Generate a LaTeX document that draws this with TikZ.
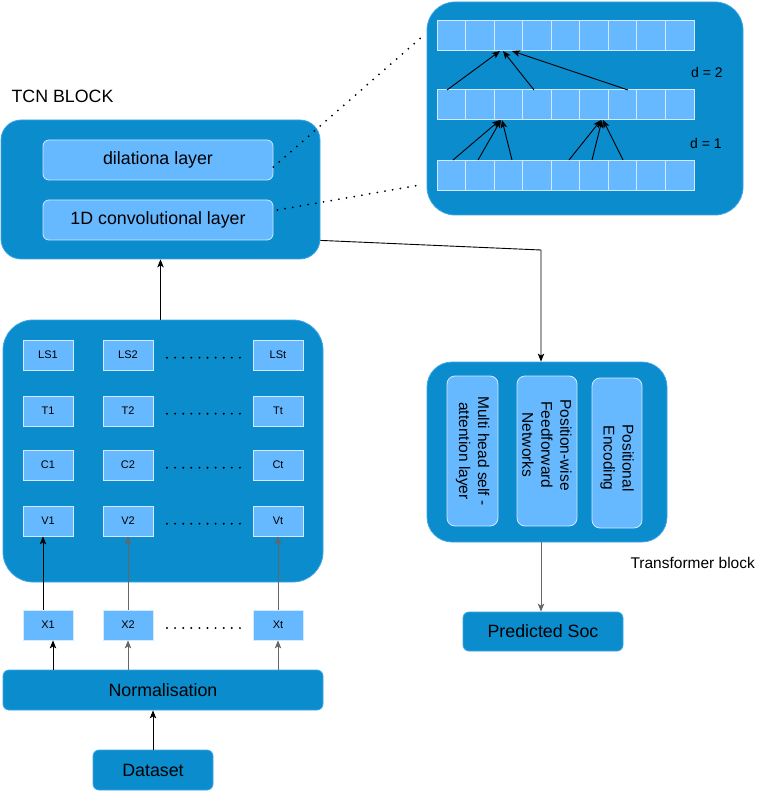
\documentclass[tikz,border=0pt]{standalone}
\usepackage{fontspec}
\setmainfont{Liberation Sans}
\usetikzlibrary{arrows.meta,calc}
\definecolor{outerblue}{HTML}{0A8CCD}
\definecolor{outeredge}{HTML}{3FA6E6}
\definecolor{innerblue}{HTML}{66B8FF}
\definecolor{inneredge}{HTML}{D4EAFF}
\definecolor{arrgray}{HTML}{666666}
\begin{document}
\begin{tikzpicture}[x=1pt,y=-1pt,
  outer/.style={draw=outeredge, fill=outerblue, line width=0.8pt, inner sep=0pt},
  inner/.style={draw=inneredge, fill=innerblue, line width=0.8pt, inner sep=0pt},
  cellbox/.style={draw=inneredge, fill=innerblue, line width=1pt, inner sep=0pt, minimum width=28.56pt, minimum height=30pt},
  gbox/.style={inner, minimum width=50pt, minimum height=30pt, font=\fontsize{11}{13}\selectfont},
  bigfont/.style={font=\fontsize{17.8}{21}\selectfont},
  midfont/.style={font=\fontsize{15.5}{19}\selectfont},
  arr/.style={line width=0.9pt, -{Stealth[length=8pt,width=6.5pt,inset=2pt]}},
  garr/.style={arr, draw=arrgray},
  dotline/.style={line width=2pt, dash pattern=on 0pt off 7.8pt, line cap=round}
]
\useasboundingbox (0,0) rectangle (764,791);

% ---------- dilation detail box ----------
\node[outer, minimum width=316pt, minimum height=213pt, rounded corners=28pt] (dil) at (585,108.5) {};
\foreach \r/\y in {1/36,2/105,3/175.5}{
  \foreach \c in {1,...,9}{
    \node[cellbox] (d\r-\c) at ({437+28.56*(\c-0.5)},\y) {};
  }
}
\node[font=\fontsize{14}{16}\selectfont] (dtwo) at (707,72) {d = 2};
\node[font=\fontsize{14}{16}\selectfont] (done) at (706,143) {d = 1};

\coordinate (t1) at (500,51);  \coordinate (t2) at (503,51); \coordinate (t3) at (512,51);
\coordinate (s1) at (447,90);  \coordinate (s2) at (534,90); \coordinate (s3) at (628,90);
\draw[arr] (s1) -- (t1);
\draw[arr] (s2) -- (t2);
\draw[arr] (s3) -- (t3);
\coordinate (u1) at (500,120); \coordinate (u2) at (501,120); \coordinate (u3) at (502,120);
\coordinate (p1) at (453,160); \coordinate (p2) at (478,160); \coordinate (p3) at (512,160);
\draw[arr] (p1) -- (u1);
\draw[arr] (p2) -- (u2);
\draw[arr] (p3) -- (u3);
\coordinate (w1) at (601,120); \coordinate (w2) at (602,120); \coordinate (w3) at (603,120);
\coordinate (q1) at (569,160); \coordinate (q2) at (592,160); \coordinate (q3) at (623,160);
\draw[arr] (q1) -- (w1);
\draw[arr] (q2) -- (w2);
\draw[arr] (q3) -- (w3);

% ---------- TCN block ----------
\node[bigfont, anchor=west] (tcnlabel) at (8,96) {TCN BLOCK};
\node[outer, minimum width=319pt, minimum height=139pt, rounded corners=20pt] (tcn) at (160.5,189.5) {};
\node[inner, bigfont, minimum width=230pt, minimum height=40pt, rounded corners=6pt] (dila) at (158,160) {dilationa layer};
\node[inner, bigfont, minimum width=230pt, minimum height=40pt, rounded corners=6pt] (conv) at (158,220) {1D convolutional layer};

\coordinate (dz1) at (424,35);
\coordinate (dz2) at (420,185);
\draw[dotline] (dila.east) ++(0,7) -- (dz1);
\draw[dotline] (conv.east) ++(4,-10) -- (dz2);

% ---------- input grid ----------
\node[outer, minimum width=320pt, minimum height=262pt, rounded corners=30pt] (grid) at (163,451) {};
\foreach \n/\x in {1/48,2/128,t/278}{
  \node[gbox] (ls\n) at (\x,355) {LS\n};
  \node[gbox] (tt\n) at (\x,411) {T\n};
  \node[gbox] (cc\n) at (\x,465) {C\n};
  \node[gbox] (vv\n) at (\x,521) {V\n};
  \node[gbox] (xx\n) at (\x,625) {X\n};
}
\foreach \y in {357.7,413.7,467.7,523.7,628}{
  \foreach \k in {0,...,9}{
    \fill (167+8.1*\k,\y) circle (1.1pt);
  }
}

% ---------- Normalisation / Dataset ----------
\node[outer, bigfont, minimum width=320pt, minimum height=40pt, rounded corners=6pt] (norm) at (163,690) {Normalisation};
\node[outer, bigfont, minimum width=120pt, minimum height=40pt, rounded corners=6pt] (data) at (153,770) {Dataset};

% ---------- Transformer ----------
\node[outer, minimum width=240pt, minimum height=180pt, rounded corners=25pt] (trans) at (547,452) {};
\node[inner, minimum width=51pt, minimum height=150pt, rounded corners=8pt] (mha) at (472.5,451) {};
\node[inner, minimum width=60pt, minimum height=150pt, rounded corners=8pt] (pff) at (547,451) {};
\node[inner, minimum width=50pt, minimum height=150pt, rounded corners=8pt] (pe) at (617,453) {};
\node[midfont, rotate=-90, align=center] (mhat) at (mha.center) {Multi head self -\\attention layer};
\node[midfont, rotate=-90, align=center] (pfft) at ($(pff.center)+(0,-6)$) {Position-wise\\Feedforward\\Networks};
\node[midfont, rotate=-90, align=center] (pet) at ($(pe.center)+(0,5)$) {Positional\\Encoding};
\node[midfont, anchor=west] (translabel) at (627,563) {Transformer block};
\node[outer, bigfont, minimum width=160pt, minimum height=39pt, rounded corners=6pt] (pred) at (543,631.5) {Predicted Soc};

% ---------- connectors ----------
\draw[arr] (tcn.south |- grid.north) -- (tcn.south);
\coordinate (bend) at (541,250);
\draw[arr] (tcn.east |- conv.south) -- (bend) -- (bend |- trans.north);
\coordinate (tb) at (541,542);
\draw[garr] (tb) -- (tb |- pred.north);

\coordinate (x1top) at ($(xx1.north)+(-5,0)$);
\coordinate (v1bot) at ($(vv1.south)+(-5,0)$);
\draw[arr] (x1top) -- (v1bot);
\draw[garr] (xx2.north) -- (vv2.south);
\draw[garr] (xxt.north) -- (vvt.south);

\coordinate (x1bot) at ($(xx1.south)+(5,0)$);
\draw[arr] (x1bot |- norm.north) -- (x1bot);
\draw[garr] (xx2.south |- norm.north) -- (xx2.south);
\draw[garr] (xxt.south |- norm.north) -- (xxt.south);

\draw[arr] (data.north) -- (norm.south -| data.north);
\end{tikzpicture}
\end{document}
